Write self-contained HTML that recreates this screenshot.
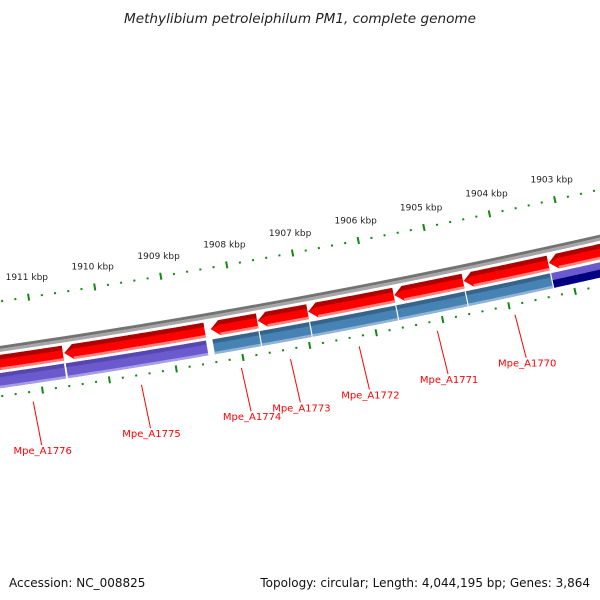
<!DOCTYPE html>
<html><head><meta charset="utf-8">
<style>
html,body{margin:0;padding:0;background:#fff;}
svg{display:block;font-family:"DejaVu Sans","Liberation Sans",sans-serif;}
</style></head>
<body>
<svg id="chart" width="600" height="600" viewBox="0 0 600 600">
<text x="124" y="23" textLength="352" lengthAdjust="spacingAndGlyphs" font-size="13.5" font-style="italic" fill="#222">Methylibium petroleiphilum PM1, complete genome</text>
<g id="layer"></g>
<text x="9" y="587" font-size="12" fill="#111">Accession: NC_008825</text>
<text x="590" y="587" text-anchor="end" font-size="12" fill="#111">Topology: circular; Length: 4,044,195 bp; Genes: 3,864</text>
</svg>
<script>
// data
const geneNames = ["Mpe_A1776","Mpe_A1775","Mpe_A1774","Mpe_A1773","Mpe_A1772","Mpe_A1771","Mpe_A1770","Mpe_A1769"];
const geneStartKbp = [1910.62,1908.49,1907.70,1906.94,1905.64,1904.59,1903.30,1902.10];
const geneEndKbp   = [1911.70,1910.60,1908.40,1907.69,1906.93,1905.63,1904.58,1903.29];
const geneCog = ["purple","purple","steel","steel","steel","steel","steel","navy"];
const showLabel = [true,true,true,true,true,true,true,false];
const tickMinKbp = 1902, tickMaxKbp = 1912;

const palette = {
  purple:["#5546b0","#6a5acd","#a79ee6"],
  steel:["#36648b","#4682b4","#8fb4d6"],
  red:["#b00000","#ff0000","#ff8080"]
};

// geometry
const CX=-1112, CY=-7327, R0=7709, A0=0.1485, AK=0.00868, REF=1911;
const NS="http://www.w3.org/2000/svg";
const layer=document.getElementById('layer');
function ang(k){return A0+(REF-k)*AK;}
function pt(r,k){const a=ang(k);return [CX+r*Math.sin(a), CY+r*Math.cos(a)];}
function arc(k1,k2,r){const pts=[];const n=30;for(let i=0;i<=n;i++){pts.push(pt(r,k1+(k2-k1)*i/n));}return pts;}
function mk(tag,attrs,parent){const e=document.createElementNS(NS,tag);for(const k in attrs)e.setAttribute(k,attrs[k]);(parent||layer).appendChild(e);return e;}
function fmt(p){return p.map(q=>q[0].toFixed(2)+','+q[1].toFixed(2)).join(' ');}
function band(k1,k2,r1,r2){return fmt(arc(k1,k2,r1).concat(arc(k2,k1,r2)));}

// backbone
const bbg=mk('g',{});


mk('polygon',{points:band(tickMinKbp-1,tickMaxKbp+1,R0+44,R0+47),fill:'#737373'},bbg);
mk('polygon',{points:band(tickMinKbp-1,tickMaxKbp+1,R0+47,R0+50),fill:'#a6a6a6'},bbg);

// ticks
function ticks(r,named){
  for(let i=Math.round(tickMinKbp*5);i<=Math.round(tickMaxKbp*5);i++){
    const k=i/5;
    if(i%5===0){
      const p1=pt(r-3.5,k),p2=pt(r+3.5,k);
      const t=mk('line',{x1:p1[0],y1:p1[1],x2:p2[0],y2:p2[1],stroke:'#118811','stroke-width':2});
      
      
      const lp=pt(r-19,k);
      if(named==='outer' && lp[0]<585){
        const tx=mk('text',{x:(lp[0]+1).toFixed(1),y:(lp[1]+1.5).toFixed(1),'text-anchor':'middle','font-size':9,fill:'#222'});
        tx.textContent=k+' kbp';
        
        
      }
    } else {
      const p1=pt(r-1,k),p2=pt(r+1,k);
      const t=mk('line',{x1:p1[0],y1:p1[1],x2:p2[0],y2:p2[1],stroke:'#118811','stroke-width':2});
      
      
    }
  }
}
ticks(R0,'outer');
ticks(R0+94,'inner');

// genes
for(let g=0;g<geneNames.length;g++){
  const s=geneStartKbp[g], e=geneEndKbp[g];
  const id=geneNames[g].toLowerCase().replace('_','-');
  const head=0.13;
  const r1=R0+53, r2=R0+68, rm=(r1+r2)/2;
  const ag=mk('g',{});
  
  
  const tip=pt(rm,e);
  mk('polygon',{points:fmt(arc(e-head,s,r1).concat(arc(s,e-head,r2),[tip])),fill:palette.red[1]},ag);
  mk('polygon',{points:fmt(arc(e-head,s,r1).concat(arc(s,e-head,r1+4.5),[pt(r1+7,e-0.02)])),fill:palette.red[0]},ag);
  mk('polygon',{points:band(s,e-head,r2-2.5,r2),fill:palette.red[2]},ag);

  const cg=mk('g',{});
  
  
  const b1=R0+71,b2=R0+86;
  if(geneCog[g]==='navy'){
    mk('polygon',{points:band(s,e,b1,b1+7),fill:'#6a5acd'},cg);
    mk('polygon',{points:band(s,e,b1+7,b2),fill:'#000080'},cg);
  } else {
    const c=palette[geneCog[g]];
    mk('polygon',{points:band(s,e,b1,b2),fill:c[1]},cg);
    mk('polygon',{points:band(s,e,b1,b1+4),fill:c[0]},cg);
    mk('polygon',{points:band(s,e,b2-2.5,b2),fill:c[2]},cg);
  }
  const sp=[pt(b1,s),pt(b2,s)];
  mk('line',{x1:sp[0][0],y1:sp[0][1],x2:sp[1][0],y2:sp[1][1],stroke:'#fff','stroke-width':1},cg);

  if(showLabel[g]){
    const m=(s+e)/2;
    const p1=pt(R0+104,m),p2=pt(R0+148,m);
    const ln=mk('line',{x1:p1[0],y1:p1[1],x2:p2[0]+2,y2:p2[1],stroke:'#ff0000','stroke-width':1});
    
    
    const tx=mk('text',{x:(p2[0]+3).toFixed(1),y:(p2[1]+9).toFixed(1),'text-anchor':'middle','font-size':10,fill:'#ff0000'});
    tx.textContent=geneNames[g];
    
    
  }
}
</script>
</body></html>
